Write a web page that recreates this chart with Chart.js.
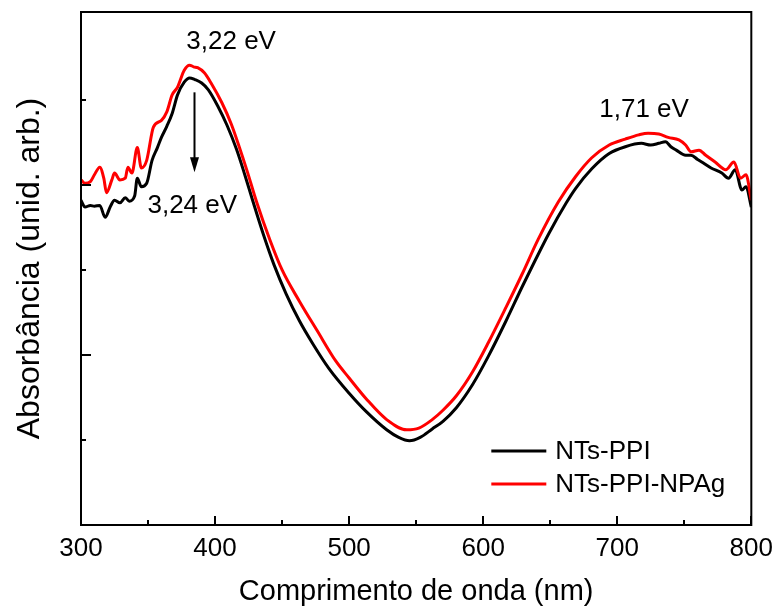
<!DOCTYPE html>
<html><head><meta charset="utf-8">
<script src="https://cdn.jsdelivr.net/npm/chart.js@4.4.1/dist/chart.umd.min.js"></script>
<style>html,body{margin:0;padding:0;background:#fff}canvas{display:block}</style>
</head><body>
<canvas id="c" width="781" height="610"></canvas>
<script>
// ---- Data ----
const seriesNames = ['NTs-PPI', 'NTs-PPI-NPAg'];
const seriesColors = ['#000000', '#ff0000'];

const nmPPI = [300,303,307,310,314,318,322,325,329,333,336,340,342,345,349,353,357,360,364,368,372,377,381,385,390,395,402,409,416,422,428,436,444,453,463,473,485,500,513,528,537,545,553,562,570,580,592,604,617,629,639,649,662,669,681,694,706,718,725,731,736,740,744,751,755,760,763,770,778,783,788,793,796,800];
const absPPI = [3.82,3.74,3.76,3.75,3.76,3.62,3.75,3.82,3.79,3.85,3.81,3.87,4.08,3.98,4.02,4.29,4.44,4.56,4.69,4.84,5.06,5.21,5.26,5.24,5.20,5.12,4.93,4.70,4.42,4.13,3.82,3.42,3.06,2.72,2.40,2.13,1.84,1.55,1.33,1.12,1.03,0.99,1.03,1.13,1.22,1.38,1.65,1.99,2.40,2.80,3.12,3.43,3.79,3.96,4.19,4.37,4.45,4.49,4.47,4.49,4.51,4.45,4.41,4.35,4.35,4.30,4.27,4.20,4.14,4.08,4.18,3.94,3.98,3.74];

const nmNPAg = [300,303,307,310,314,317,319,323,325,329,333,335,338,342,345,349,354,360,364,368,372,377,381,384,387,392,397,405,412,418,424,431,441,450,463,476,490,500,513,528,543,552,562,570,580,592,604,617,629,641,656,669,681,694,706,716,723,731,738,746,751,755,761,766,773,781,787,792,796,800];
const absNPAg = [4.06,4.02,4.04,4.12,4.21,4.08,3.91,4.06,4.14,4.06,4.08,4.21,4.14,4.44,4.20,4.29,4.68,4.76,4.86,5.06,5.15,5.35,5.41,5.39,5.38,5.32,5.20,4.97,4.72,4.45,4.16,3.80,3.35,3.00,2.63,2.29,1.93,1.73,1.48,1.24,1.12,1.14,1.24,1.35,1.52,1.80,2.15,2.56,2.95,3.36,3.80,4.10,4.32,4.47,4.54,4.59,4.61,4.60,4.56,4.53,4.47,4.39,4.41,4.35,4.27,4.18,4.27,4.08,4.12,3.82];

const xMin = 300, xMax = 800;
const xMajorTicks = [300,400,500,600,700,800];
const xMinorTicks = [350,450,550,650,750];
const yMin = 0, yMax = 6.035;
const yMajorTicks = [2,4];
const yMinorTicks = [1,3,5];

const labelTexts = ['3,22 eV', '3,24 eV', '1,71 eV'];
const labelX = [412, 383, 720];
const labelY = [5.68, 3.76, 4.88];
const arrowX = 384, arrowFrom = 5.09, arrowTo = 4.15;

const xTitle = 'Comprimento de onda (nm)';
const yTitle = 'Absorbância (unid. arb.)';

// ---- Chart ----
const FONT = "'Liberation Sans', Arial, sans-serif";
Chart.defaults.font.family = FONT;
Chart.defaults.color = '#000';

const toPoints = (xs, ys) => xs.map((x, i) => ({x: x, y: ys[i]}));

const decor = {
  id: 'decor',
  afterDraw(chart) {
    const ctx = chart.ctx, a = chart.chartArea;
    const xs = chart.scales.x, ys = chart.scales.y;
    ctx.save();
    ctx.strokeStyle = '#000';
    ctx.lineWidth = 2;
    // inner ticks
    ctx.beginPath();
    xMajorTicks.forEach(v => { const p = Math.round(xs.getPixelForValue(v)); ctx.moveTo(p, a.bottom); ctx.lineTo(p, a.bottom - 9); });
    xMinorTicks.forEach(v => { const p = Math.round(xs.getPixelForValue(v)); ctx.moveTo(p, a.bottom); ctx.lineTo(p, a.bottom - 5); });
    yMajorTicks.forEach(v => { const p = Math.round(ys.getPixelForValue(v)); ctx.moveTo(a.left, p); ctx.lineTo(a.left + 10, p); });
    yMinorTicks.forEach(v => { const p = Math.round(ys.getPixelForValue(v)); ctx.moveTo(a.left, p); ctx.lineTo(a.left + 5, p); });
    ctx.stroke();
    // frame
    ctx.strokeRect(a.left, a.top, a.right - a.left, a.bottom - a.top);
    // labels
    ctx.fillStyle = '#000';
    ctx.font = '26px ' + FONT;
    ctx.textAlign = 'center';
    ctx.textBaseline = 'middle';
    labelTexts.forEach((t, i) => ctx.fillText(t, xs.getPixelForValue(labelX[i]), ys.getPixelForValue(labelY[i])));
    // arrow
    const ax = Math.round(xs.getPixelForValue(arrowX)) + 0.5;
    const ay1 = ys.getPixelForValue(arrowFrom), ay2 = ys.getPixelForValue(arrowTo);
    ctx.lineWidth = 2;
    ctx.beginPath(); ctx.moveTo(ax, ay1); ctx.lineTo(ax, ay2 - 10); ctx.stroke();
    ctx.beginPath(); ctx.moveTo(ax - 4.5, ay2 - 15); ctx.lineTo(ax + 4.5, ay2 - 15); ctx.lineTo(ax, ay2); ctx.closePath(); ctx.fill();
    // legend
    ctx.textAlign = 'left';
    ctx.lineWidth = 3;
    const lx = a.right - 260, ly0 = a.bottom - 74, dy = 33;
    seriesNames.forEach((n, i) => {
      const y = ly0 + i * dy;
      ctx.strokeStyle = seriesColors[i];
      ctx.beginPath(); ctx.moveTo(lx, y); ctx.lineTo(lx + 55, y); ctx.stroke();
      ctx.fillText(n, lx + 64, y + 1);
    });
    ctx.restore();
  }
};

new Chart(document.getElementById('c'), {
  type: 'line',
  data: {
    datasets: [
      { label: seriesNames[0], data: toPoints(nmPPI, absPPI), borderColor: seriesColors[0], borderWidth: 3, pointRadius: 0, cubicInterpolationMode: 'monotone', order: 1 },
      { label: seriesNames[1], data: toPoints(nmNPAg, absNPAg), borderColor: seriesColors[1], borderWidth: 3, pointRadius: 0, cubicInterpolationMode: 'monotone', order: 0 }
    ]
  },
  options: {
    responsive: false,
    animation: false,
    devicePixelRatio: 1,
    layout: { padding: { top: 12, right: 28, left: 0, bottom: 0 } },
    plugins: { legend: { display: false }, tooltip: { enabled: false } },
    scales: {
      x: {
        type: 'linear', min: xMin, max: xMax,
        afterBuildTicks: s => { s.ticks = xMajorTicks.map(v => ({value: v})); },
        ticks: { font: { size: 26 }, padding: 8, color: '#000', maxRotation: 0 },
        grid: { display: false, drawTicks: false },
        border: { display: false },
        title: { display: true, text: xTitle, font: { size: 29 }, color: '#000', padding: { top: 0, bottom: 1 } },
        afterFit: s => { s.height = 85; }
      },
      y: {
        type: 'linear', min: yMin, max: yMax,
        ticks: { display: false },
        grid: { display: false, drawTicks: false },
        border: { display: false },
        title: { display: true, text: yTitle, font: { size: 32 }, color: '#000', padding: { top: 11, bottom: 0 } },
        afterFit: s => { s.width = 81; }
      }
    }
  },
  plugins: [decor]
});
</script>
</body></html>
